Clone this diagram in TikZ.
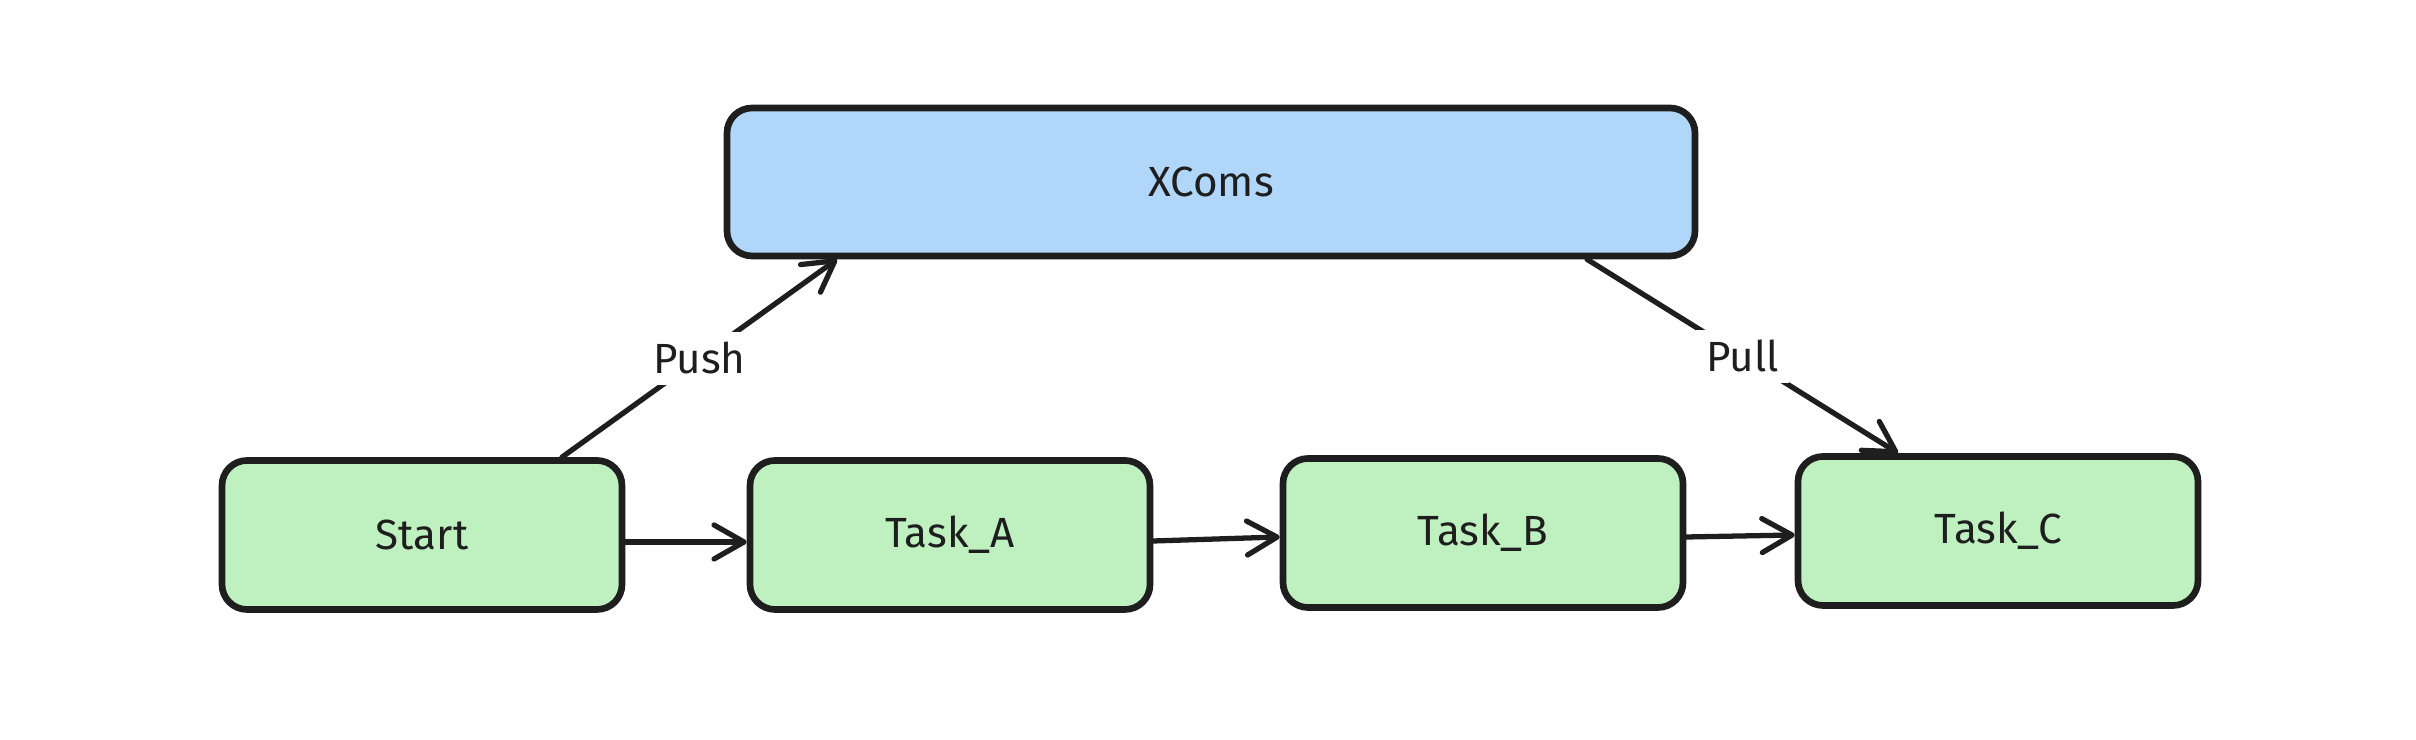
\documentclass[tikz,border=0pt]{standalone}
\usepackage{fontspec}
\setmainfont{Fira Sans}
\usetikzlibrary{arrows.meta}
\definecolor{ink}{HTML}{1E1E1E}
\definecolor{xblue}{HTML}{B0D6F9}
\definecolor{xgreen}{HTML}{BFF0C0}

\begin{document}
\begin{tikzpicture}[
    box/.style={rectangle, draw=ink, line width=1.9pt, rounded corners=0.25cm,
        minimum width=4cm, minimum height=1.49cm, fill=xgreen, text=ink,
        font=\fontsize{12}{14}\selectfont},
    link/.style={draw=ink, line width=1.5pt, line cap=round,
        -{Straight Barb[length=3mm, width=3.4mm, round]}},
    lbl/.style={fill=white, text=ink, inner sep=3pt, font=\fontsize{12}{14}\selectfont}
]
    \useasboundingbox (0,0) rectangle (24.16,7.40);
    \node[box, fill=xblue, minimum width=9.68cm, minimum height=1.48cm] (xcoms) at (12.11,5.58) {XComs};
    \node[box] (start) at (4.22,2.05) {Start};
    \node[box] (taskA) at (9.50,2.05) {Task\_A};
    \node[box] (taskB) at (14.83,2.07) {Task\_B};
    \node[box] (taskC) at (19.98,2.09) {Task\_C};

    \draw[link] ([yshift=-0.07cm]start.east) -- ([yshift=-0.07cm]taskA.west);
    \draw[link] ([yshift=-0.06cm]taskA.east) -- ([yshift=-0.04cm]taskB.west);
    \draw[link] ([yshift=-0.04cm]taskB.east) -- ([yshift=-0.04cm]taskC.west);
    \draw[link] ([xshift=1.4cm]start.north) -- node[lbl] {Push} ([xshift=-3.74cm]xcoms.south);
    \draw[link] ([xshift=3.76cm]xcoms.south) -- node[lbl] {Pull} ([xshift=-1cm]taskC.north);
\end{tikzpicture}
\end{document}
